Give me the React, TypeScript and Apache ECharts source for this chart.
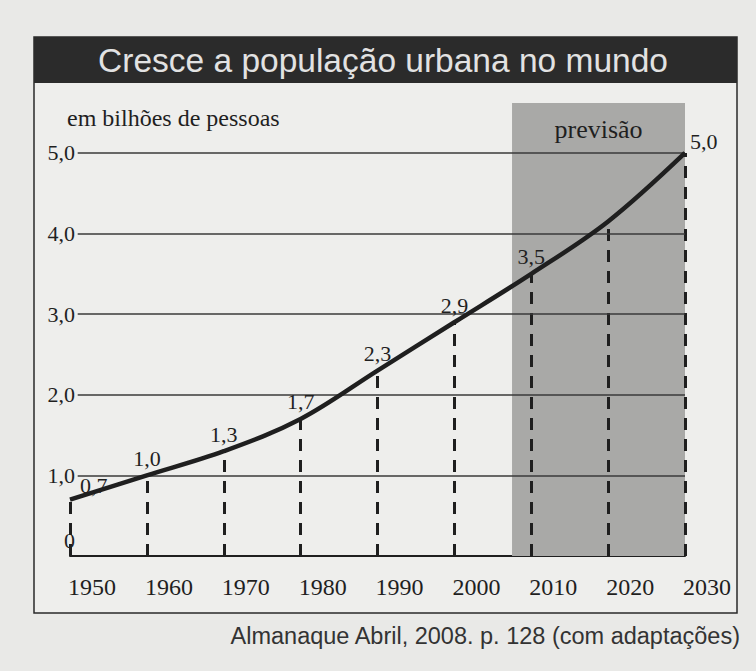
import React, { useEffect, useRef } from "react";
import * as echarts from "echarts";

// ---- data ----
const years: number[] = [1950, 1960, 1970, 1980, 1990, 2000, 2010, 2020, 2030];
const population: number[] = [0.7, 1.0, 1.3, 1.7, 2.3, 2.9, 3.5, 4.15, 5.0];
const showValueLabel: boolean[] = [true, true, true, true, true, true, true, false, true];
const gridValues: number[] = [1, 2, 3, 4, 5];
const forecastRange: number[] = [2007.5, 2030];
const titleText = "Cresce a população urbana no mundo";
const unitText = "em bilhões de pessoas";
const forecastText = "previsão";
const sourceText = "Almanaque Abril, 2008. p. 128 (com adaptações)";

const fmt = (v: number) => v.toFixed(1).replace(".", ",");
const SERIF = "'Liberation Serif', 'DejaVu Serif', serif";
const SANS = "'Liberation Sans', Arial, sans-serif";
const INK = "#1f1f1f";

export default function App() {
  const ref = useRef<HTMLDivElement>(null);
  useEffect(() => {
    if (!ref.current) return;
    const chart = echarts.init(ref.current, undefined, { renderer: "svg" });
    const lastIdx = population.length - 1;
    const seriesData = population.map((v, i) => {
      const item: any = { value: [years[i], v] };
      if (!showValueLabel[i]) {
        item.label = { show: false };
      } else if (i === 0) {
        item.label = { position: "right", distance: 10, offset: [0, -14] };
      } else if (i === lastIdx) {
        item.label = { position: "right", distance: 5, offset: [0, -11] };
      }
      return item;
    });
    const dashData = population.map((v, i) => [
      { coord: [years[i], 0] },
      { coord: [years[i], v] },
    ]);
    const gridLineStart = years[0] + 1;
    const gridData = gridValues.map((g) => [
      { coord: [gridLineStart, g] },
      { coord: [years[lastIdx], g] },
    ]);
    chart.setOption({
      animation: false,
      backgroundColor: "#e9e9e7",
      graphic: [
        {
          type: "rect",
          z: -10,
          shape: { x: 34, y: 37, width: 703, height: 576 },
          style: { fill: "#eeeeec", stroke: "#2a2a2a", lineWidth: 1.5 },
          silent: true,
        },
        {
          type: "rect",
          z: -9,
          shape: { x: 34, y: 37, width: 703, height: 46 },
          style: { fill: "#2b2b2b" },
          silent: true,
        },
        {
          type: "text",
          x: 383,
          y: 60,
          style: {
            text: titleText,
            fill: "#e2e2e2",
            font: `33.5px ${SANS}`,
            textAlign: "center",
            textVerticalAlign: "middle",
          },
        },
        {
          type: "text",
          x: 740,
          y: 636,
          style: {
            text: sourceText,
            fill: "#333",
            font: `23.5px ${SANS}`,
            textAlign: "right",
            textVerticalAlign: "middle",
          },
        },
      ],
      grid: { left: 70, right: 71, top: 103, bottom: 115 },
      xAxis: {
        type: "value",
        min: 1950,
        max: 2030,
        interval: 10,
        axisLine: { show: true, lineStyle: { color: INK, width: 2 } },
        axisTick: { show: false },
        splitLine: { show: false },
        axisLabel: {
          formatter: (v: number) => String(v),
          color: INK,
          fontFamily: SERIF,
          fontSize: 24,
          margin: 19,
          padding: [0, 0, 0, 44],
        },
      },
      yAxis: {
        type: "value",
        min: 0,
        max: 5.62,
        interval: 1,
        name: unitText,
        nameLocation: "end",
        nameGap: -27,
        nameTextStyle: {
          color: INK,
          fontFamily: SERIF,
          fontSize: 24,
          align: "left",
          padding: [0, 0, 0, -3],
        },
        axisLine: { show: false },
        axisTick: { show: false },
        splitLine: { show: false },
        axisLabel: {
          showMaxLabel: false,
          margin: -5,
          color: INK,
          fontFamily: SERIF,
          fontSize: 22,
          formatter: (v: number) => (v === 0 ? "{z|0}" : fmt(v)),
          rich: {
            z: { fontFamily: SERIF, fontSize: 22, color: INK, padding: [0, 0, 32, 10] },
          },
        },
      },
      series: [
        {
          type: "line",
          data: seriesData,
          smooth: 0.35,
          symbol: "circle",
          symbolSize: 0.1,
          showSymbol: true,
          itemStyle: { color: INK },
          lineStyle: { color: INK, width: 4.5 },
          label: {
            show: true,
            position: "top",
            distance: 6,
            color: INK,
            fontFamily: SERIF,
            fontSize: 22,
            formatter: (p: any) => fmt(p.value[1]),
          },
          z: 5,
          markArea: {
            silent: true,
            itemStyle: { color: "#a9a9a7" },
            label: {
              show: true,
              position: "insideTop",
              distance: 13,
              color: INK,
              fontFamily: SERIF,
              fontSize: 26,
            },
            data: [
              [
                { name: forecastText, xAxis: forecastRange[0] },
                { xAxis: forecastRange[1] },
              ],
            ],
          },
          markLine: {
            silent: true,
            symbol: ["none", "none"],
            label: { show: false },
            lineStyle: { color: INK, width: 3, type: [12, 9] },
            data: dashData,
          },
        },
        {
          type: "line",
          data: [],
          z: 1,
          markLine: {
            silent: true,
            symbol: ["none", "none"],
            label: { show: false },
            lineStyle: { color: "#3a3a3a", width: 1.5, type: "solid" },
            data: gridData,
          },
        },
      ],
    });
    return () => chart.dispose();
  }, []);
  return (
    <div
      ref={ref}
      style={{ position: "fixed", left: 0, top: 0, width: 756, height: 671 }}
    />
  );
}
